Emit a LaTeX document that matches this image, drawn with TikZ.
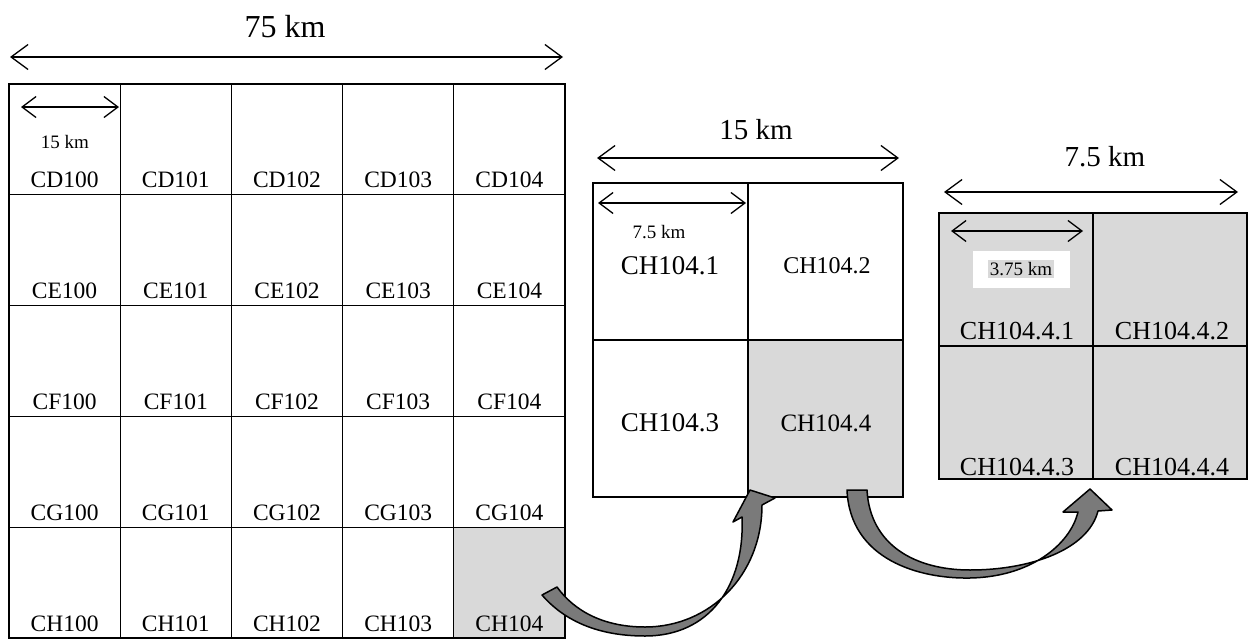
\documentclass[tikz,border=0pt]{standalone}
\usepackage{fontspec}
\setmainfont{Liberation Serif}
\usetikzlibrary{arrows.meta}
\definecolor{shadegray}{HTML}{D9D9D9}
\definecolor{arrowgray}{HTML}{7A7A7A}
\begin{document}
\begin{tikzpicture}[x=1pt,y=-1pt,
  gridline/.style={draw=black, line width=1.1pt},
  bigcell/.style={gridline, inner sep=0pt, outer sep=0pt, minimum width=111.2pt, minimum height=110.8pt, anchor=north west},
  midcell/.style={gridline, inner sep=0pt, outer sep=0pt, minimum width=155pt, minimum height=157pt, anchor=north west},
  smallcell/.style={gridline, inner sep=0pt, outer sep=0pt, minimum width=154pt, minimum height=133pt, anchor=north west, fill=shadegray},
  lab/.style={inner sep=0pt, anchor=base, text=black},
  dimarrow/.style={line width=1.3pt, {Straight Barb[length=17pt,width=25pt]}-{Straight Barb[length=17pt,width=25pt]}},
  smallarrow/.style={line width=1.3pt, {Straight Barb[length=14pt,width=21pt]}-{Straight Barb[length=14pt,width=21pt]}},
  blockarrow/.style={draw=black, line width=1.5pt, fill=arrowgray, line join=round}
]
\useasboundingbox (0,0) rectangle (1254,640);

% ---------- main 5x5 grid ----------
\fill[shadegray] (9+4*111.2,84+4*110.8) rectangle ++(111.2,110.8);
\foreach \r [count=\i from 0] in {D,E,F,G,H}{
  \foreach \c in {0,...,4}{
    \pgfmathsetmacro\xx{9+\c*111.2}
    \pgfmathsetmacro\yy{84+\i*110.8}
    \node[bigcell] (cellC\r10\c) at (\xx,\yy) {};
    \node[lab, font=\fontsize{23.5}{23.5}\selectfont, yshift=7pt] (labC\r10\c) at (cellC\r10\c.south) {C\r10\c};
  }
}

% top dimension
\coordinate (tl) at (10,57);
\coordinate (tr) at (563,57);
\draw[dimarrow] (tl) -- (tr);
\node[font=\fontsize{32}{32}\selectfont, inner sep=0pt] (km75) at (285,27) {75 km};

% small dimension in CD100
\coordinate (sl) at (21,107);
\coordinate (sr) at (119,107);
\draw[smallarrow] (sl) -- (sr);
\node[font=\fontsize{19}{19}\selectfont, inner sep=0pt] (km15s) at (65,142) {15 km};

% ---------- middle 2x2 grid ----------
\node[midcell] (c1041) at (593,183) {};
\node[midcell] (c1042) at (748,183) {};
\node[midcell] (c1043) at (593,340) {};
\node[midcell, fill=shadegray] (c1044) at (748,340) {};
\node[lab, font=\fontsize{27}{27}\selectfont] (l1041) at (670,274) {CH104.1};
\node[lab, font=\fontsize{24}{24}\selectfont] (l1042) at (827,273) {CH104.2};
\node[lab, font=\fontsize{27}{27}\selectfont] (l1043) at (670,431) {CH104.3};
\node[lab, font=\fontsize{25}{25}\selectfont] (l1044) at (826,431) {CH104.4};

\coordinate (ml) at (597,158);
\coordinate (mr) at (899,158);
\draw[dimarrow] (ml) -- (mr);
\node[font=\fontsize{29}{29}\selectfont, inner sep=0pt] (km15) at (756,130) {15 km};

\coordinate (msl) at (598,203);
\coordinate (msr) at (746,203);
\draw[smallarrow] (msl) -- (msr);
\node[font=\fontsize{19}{19}\selectfont, inner sep=0pt] (km75s) at (659,232) {7.5 km};

% ---------- right 2x2 grid ----------
\node[smallcell] (c10441) at (939,213) {};
\node[smallcell] (c10442) at (1093,213) {};
\node[smallcell] (c10443) at (939,346) {};
\node[smallcell] (c10444) at (1093,346) {};
\node[lab, font=\fontsize{26}{26}\selectfont] (l10441) at (1017,339) {CH104.4.1};
\node[lab, font=\fontsize{26}{26}\selectfont] (l10442) at (1172,339) {CH104.4.2};
\node[lab, font=\fontsize{26}{26}\selectfont] (l10443) at (1017,475) {CH104.4.3};
\node[lab, font=\fontsize{26}{26}\selectfont] (l10444) at (1172,475) {CH104.4.4};

\coordinate (rl) at (944,192);
\coordinate (rr) at (1238,192);
\draw[dimarrow] (rl) -- (rr);
\node[font=\fontsize{29}{29}\selectfont, inner sep=0pt] (km75b) at (1105,157) {7.5 km};

\coordinate (rsl) at (951,231);
\coordinate (rsr) at (1083,231);
\draw[smallarrow] (rsl) -- (rsr);
\node[fill=white, minimum width=97pt, minimum height=37pt, inner sep=0pt] (boxkm) at (1021,269) {};
\node[fill=shadegray, font=\fontsize{19}{19}\selectfont, inner sep=2pt] (km375) at (boxkm.center) {3.75 km};

% ---------- curved block arrows ----------
\path[blockarrow] (542,595) .. controls (568,625) and (605,636) .. (645,636)
  .. controls (710,636) and (745,585) .. (742,517)
  -- (733,522) -- (750,490) -- (775,498) -- (762,505)
  .. controls (762,575) and (710,627) .. (645,627)
  .. controls (605,627) and (575,612) .. (557,587) -- cycle;

\path[blockarrow] (847,490) .. controls (850,560) and (920,579) .. (970,578)
  .. controls (1030,577) and (1070,545) .. (1078,512)
  -- (1063,512) -- (1090,489) -- (1112,510) -- (1098,511)
  .. controls (1088,550) and (1030,570) .. (970,570)
  .. controls (915,570) and (870,545) .. (867,490) -- cycle;
\end{tikzpicture}
\end{document}
